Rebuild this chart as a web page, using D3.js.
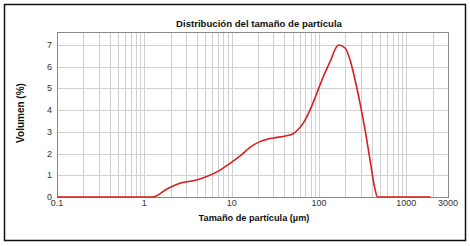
<!DOCTYPE html>
<html>
<head>
<meta charset="utf-8">
<script src="https://cdn.jsdelivr.net/npm/d3@7"></script>
<style>
  body { margin: 0; background: #fff; }
  svg { font-family: Arial, "Liberation Sans", sans-serif; }
</style>
</head>
<body>
<svg id="chart" width="470" height="246"></svg>
<script>
// tamaño de partícula (µm) y volumen (%)
const sizes = [0.1, 1.26, 1.82, 2.56, 3.98, 5.19, 7.36, 9.55, 12.5, 16.2, 21.1, 30, 40, 50, 58, 66, 79, 94.4, 112, 134, 160, 170, 200, 227, 259, 295, 337, 384, 440, 468, 1900];
const volumes = [0, 0, 0.37, 0.63, 0.78, 0.94, 1.24, 1.55, 1.89, 2.29, 2.55, 2.72, 2.80, 2.90, 3.12, 3.40, 4.01, 4.78, 5.54, 6.24, 6.93, 7.0, 6.85, 6.31, 5.39, 4.32, 3.09, 1.71, 0.32, 0, 0];
const xTicks = [0.1, 1, 10, 100, 1000, 3000];
const yTicks = [0, 1, 2, 3, 4, 5, 6, 7];

const svg = d3.select("#chart");
const plotLeft = 57, plotRight = 448, plotTop = 32, plotBottom = 197;

// marco exterior
svg.append("rect")
  .attr("x", 4.5).attr("y", 4.5)
  .attr("width", 461).attr("height", 236)
  .attr("fill", "none").attr("stroke", "#111").attr("stroke-width", 1.5);

const x = d3.scaleLog().domain([0.1, 3000]).range([plotLeft, plotRight]);
const y = d3.scaleLinear().domain([0, 7.6]).range([plotBottom, plotTop]);

// lineas de la cuadricula (1..9 por década)
let minor = [];
for (let e = -1; e <= 3; e++) {
  for (let m = 1; m <= 9; m++) {
    const v = m * Math.pow(10, e);
    if (v > 0.1 && v < 3000) minor.push(v);
  }
}
svg.append("g")
  .selectAll("line")
  .data(minor)
  .enter().append("line")
  .attr("x1", d => Math.round(x(d)) + 0.5).attr("x2", d => Math.round(x(d)) + 0.5)
  .attr("y1", plotTop).attr("y2", plotBottom)
  .attr("stroke", "#d0d0d0").attr("stroke-width", 1);

svg.append("g")
  .selectAll("line")
  .data(yTicks.slice(1))
  .enter().append("line")
  .attr("x1", plotLeft).attr("x2", plotRight)
  .attr("y1", d => Math.round(y(d)) + 0.5).attr("y2", d => Math.round(y(d)) + 0.5)
  .attr("stroke", "#d0d0d0").attr("stroke-width", 1);

// borde del area del grafico
svg.append("rect")
  .attr("x", plotLeft + 0.5).attr("y", plotTop + 0.5)
  .attr("width", plotRight - plotLeft).attr("height", plotBottom - plotTop)
  .attr("fill", "none").attr("stroke", "#8a8a8a").attr("stroke-width", 1);

// etiquetas de ejes
svg.append("g")
  .selectAll("text")
  .data(yTicks)
  .enter().append("text")
  .attr("x", 52).attr("y", d => y(d) + 3)
  .attr("text-anchor", "end")
  .attr("font-size", "9px").attr("fill", "#333")
  .text(d => d);

svg.append("g")
  .selectAll("text")
  .data(xTicks)
  .enter().append("text")
  .attr("x", d => x(d)).attr("y", 206)
  .attr("text-anchor", "middle")
  .attr("font-size", "9px").attr("fill", "#333")
  .text(d => d);

// curva
const line = d3.line()
  .x((d, i) => x(sizes[i]))
  .y(d => y(d))
  .curve(d3.curveMonotoneX);

svg.append("path")
  .datum(volumes)
  .attr("d", line)
  .attr("fill", "none")
  .attr("stroke", "#d81e1e")
  .attr("stroke-width", 1.6);

// titulos
svg.append("text")
  .attr("x", 259).attr("y", 27)
  .attr("text-anchor", "middle")
  .attr("font-size", "9.6px").attr("font-weight", "bold").attr("fill", "#111")
  .text("Distribución del tamaño de partícula");

svg.append("text")
  .attr("x", 254).attr("y", 221)
  .attr("text-anchor", "middle")
  .attr("font-size", "9.2px").attr("font-weight", "bold").attr("fill", "#111")
  .text("Tamaño de partícula (µm)");

svg.append("text")
  .attr("transform", "translate(24,113) rotate(-90)")
  .attr("text-anchor", "middle")
  .attr("font-size", "10px").attr("font-weight", "bold").attr("fill", "#111")
  .text("Volumen (%)");
</script>
</body>
</html>
